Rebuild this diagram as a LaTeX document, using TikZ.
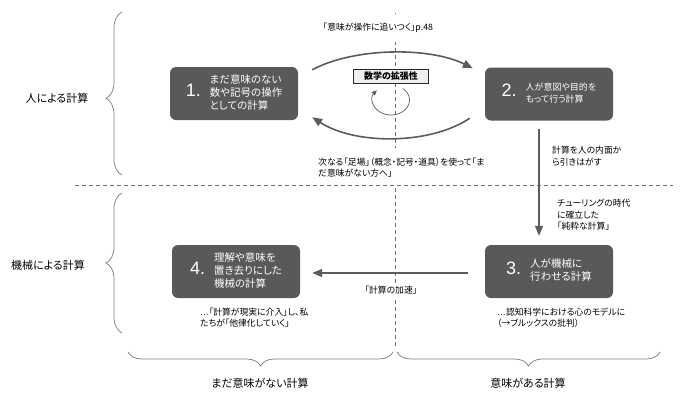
\documentclass[tikz,border=0pt]{standalone}
\usepackage{fontspec}
\setmainfont{Noto Sans CJK JP}[RawFeature=+palt]
\newfontfamily\latinfont{Liberation Sans}
\usetikzlibrary{arrows.meta,positioning,calc,decorations.pathreplacing}
\definecolor{stg}{HTML}{595959}
\definecolor{ln}{HTML}{5C5C5C}
\definecolor{brc}{HTML}{7A7A7A}
\definecolor{dsh}{HTML}{6E6E6E}
\definecolor{tagbg}{HTML}{EFEFEF}
\tikzset{
  stage/.style  ={fill=stg, rounded corners=6pt, text=white, minimum width=128pt,
                  minimum height=53pt, inner sep=0pt},
  note/.style   ={inner sep=0pt, align=left, font=\fontsize{8.8pt}{11.5pt}\selectfont},
  side/.style   ={inner sep=0pt, font=\fontsize{11pt}{13pt}\selectfont},
  tag/.style    ={draw=black!85, fill=tagbg, line width=0.7pt, minimum width=75pt,
                  minimum height=14pt, inner sep=0pt, font=\bfseries\fontsize{9pt}{10pt}\selectfont},
  ar/.style     ={-{Triangle[length=10pt,width=8pt]}, draw=ln, line width=1.6pt},
  arthin/.style ={-{Triangle[length=5pt,width=4.5pt]}, draw=ln, line width=0.7pt},
  divider/.style={draw=dsh, line width=0.6pt, dash pattern=on 4pt off 3pt},
  grp/.style    ={decorate, draw=brc, line width=0.7pt},
}
\newcommand{\stnum}[1]{{\latinfont\fontsize{18pt}{18pt}\selectfont #1}\hspace{9pt}}

\begin{document}
\begin{tikzpicture}[x=1pt,y=-1pt]
\useasboundingbox (0,0) rectangle (683,400);
% divider between meaningless / meaningful
\draw[divider] (395,13) -- (395,348);
% the four stages
\node[stage] (s1) at (234,93.5)
  {\stnum{1.}{\fontsize{10.5pt}{13pt}\selectfont\begin{tabular}{@{}l@{}}まだ意味のない\\数や記号の操作\\としての計算\end{tabular}}};
\node[stage] (s2) at (549,94)
  {\stnum{2.}{\fontsize{9pt}{12pt}\selectfont\begin{tabular}{@{}l@{}}人が意図や目的を\\もって行う計算\end{tabular}}};
\node[stage] (s3) at (549,271.5)
  {\stnum{3.}{\fontsize{10.5pt}{13pt}\selectfont\begin{tabular}{@{}l@{}}人が機械に\\行わせる計算\end{tabular}}};
\node[stage] (s4) at (236,271.5)
  {\stnum{4.}{\fontsize{10.5pt}{13pt}\selectfont\begin{tabular}{@{}l@{}}理解や意味を\\置き去りにした\\機械の計算\end{tabular}}};
% labels
\node[note, fill=white, inner ysep=9pt] (lcatch) at (378,28) {「意味が操作に追いつく」p.48};
\node[note, fill=white, inner ysep=10pt, anchor=west] (lstep) at (318,167.5)
  {次なる「足場」（概念・記号・道具）を使って「ま\\だ意味がない方へ」};
\node[note, fill=white, inner ysep=3pt] (laccel) at (391,290) {「計算の加速」};
\node[note, anchor=west] (lpeel) at (552,156) {計算を人の内面か\\ら引きはがす};
\node[note, anchor=west] (lturing) at (557,215) {チューリングの時代\\に確立した\\「純粋な計算」};
\node[note, anchor=west] (lreal) at (200,317.5)
  {{\latinfont …}「計算が現実に介入」し、私\\たちが「他律化していく」};
\node[note, anchor=west] (lcog) at (497,317.5)
  {{\latinfont …}認知科学における心のモデルに\\（→ブルックスの批判）};
% human / machine divider
\draw[divider] (75,185) -- (673,185);
\node[tag] (math) at (391,76) {数学の拡張性};
% arrows
\coordinate (tA) at ($(s1.north east)+(14,3)$);
\coordinate (tB) at ($(s2.north west)+(-12,1)$);
\coordinate (bA) at ($(s2.south west)+(-15,-2.5)$);
\coordinate (bB) at ($(s1.south east)+(14,-3)$);
\draw[ar] (tA) .. controls (355,47) and (430,47) .. (tB);
\draw[ar] (bA) .. controls (430,145) and (355,145) .. (bB);
\draw[arthin] (402.9,88.5) arc[start angle=-50, end angle=220, x radius=18.5, y radius=15];
\draw[ar, line width=1.5pt] ($(s2.south)+(-10,8)$) -- ($(s3.north)+(-10,-9)$);
\draw[ar, line width=1.5pt] ($(s3.west)+(-17,1.5)$) -- ($(s4.east)+(12,1.5)$);
% braces
\draw[grp, decoration={brace, amplitude=16pt, aspect=0.47}] (122,175) -- (122,12);
\draw[grp, decoration={brace, amplitude=16pt}] (122,333) -- (122,193);
\draw[grp, decoration={brace, amplitude=14pt}] (393,352) -- (128,352);
\draw[grp, decoration={brace, amplitude=14pt}] (660,352) -- (397,352);
\node[side] (human) at (57,98) {人による計算};
\node[side] (machine) at (48,265) {機械による計算};
\node[side] (nomean) at (260,383) {まだ意味がない計算};
\node[side] (mean) at (528,383) {意味がある計算};
\end{tikzpicture}
\end{document}
